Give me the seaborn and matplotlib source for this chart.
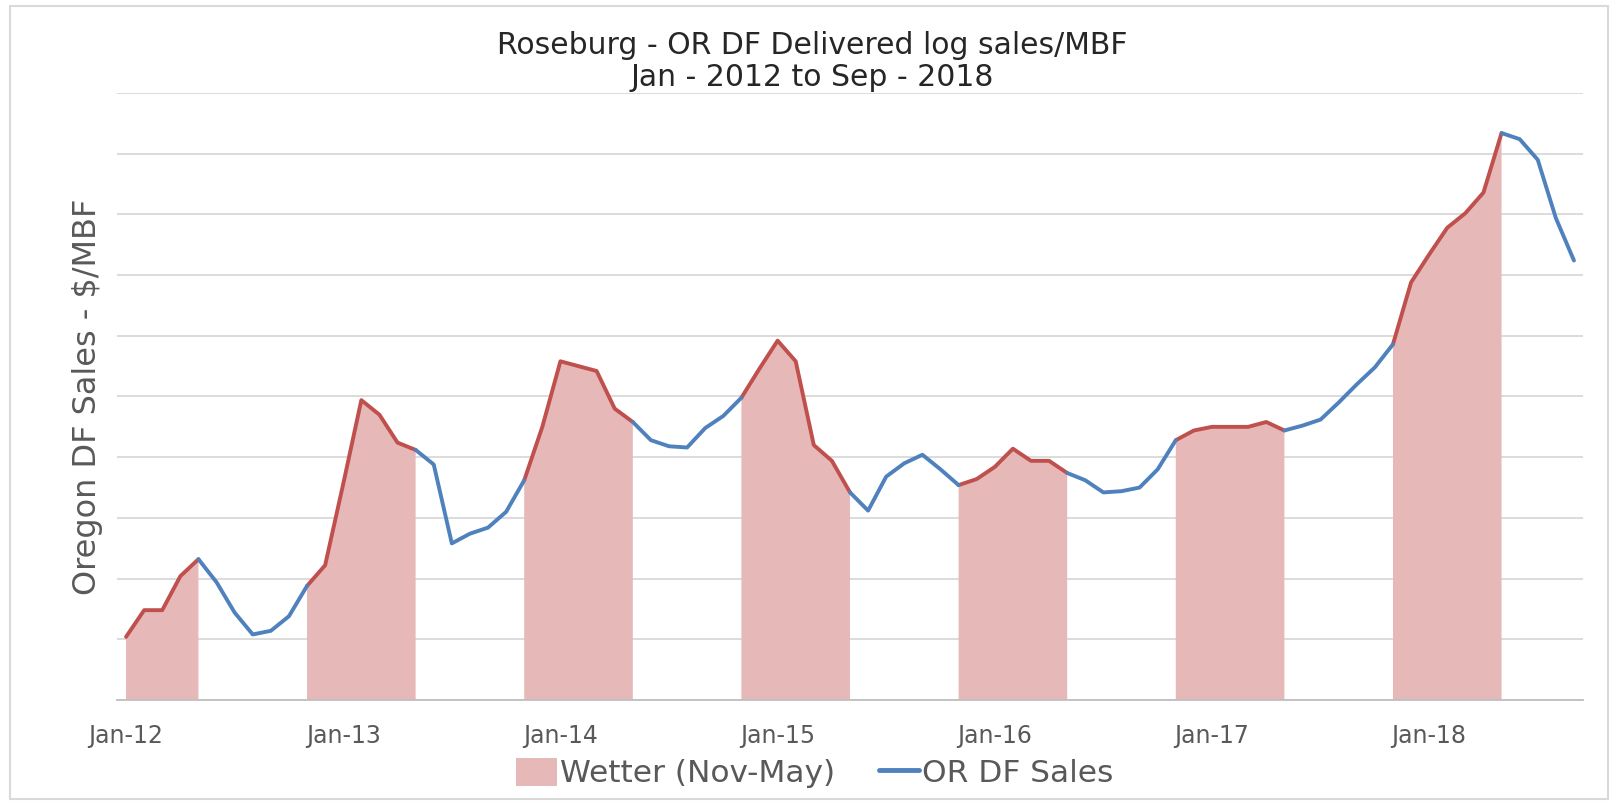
import numpy as np
import pandas as pd
import matplotlib
matplotlib.use("Agg")
import matplotlib.pyplot as plt
import seaborn as sns
from matplotlib.patches import Patch, Rectangle
from matplotlib.lines import Line2D

# ---------------- data ----------------
months = pd.date_range("2012-01-01", "2018-09-01", freq="MS")
sales = [
    352, 374, 374, 402, 416, 397, 372, 354, 357, 369, 394, 411,   # 2012
    478, 547, 535, 512, 506, 494, 429, 437, 442, 455, 481, 525,   # 2013
    579, 575, 571, 540, 529, 514, 509, 508, 524, 534, 549, 573,   # 2014
    596, 579, 510, 497, 471, 456, 484, 495, 502, 490, 477, 482,   # 2015
    492, 507, 497, 497, 487, 481, 471, 472, 475, 490, 514, 522,   # 2016
    525, 525, 525, 529, 522, 526, 531, 545, 560, 574, 593, 644,   # 2017
    667, 689, 701, 718, 767, 762, 745, 697, 662,                  # 2018
]
tick_labels = ["Jan-12", "Jan-13", "Jan-14", "Jan-15", "Jan-16", "Jan-17", "Jan-18"]
wet_months = [11, 12, 1, 2, 3, 4, 5]

title_lines = ["Roseburg - OR DF Delivered log sales/MBF", "Jan - 2012 to Sep - 2018"]
ylabel = "Oregon DF Sales - $/MBF"
legend_labels = ["Wetter (Nov-May)", "OR DF Sales"]

FILL = "#E6B8B7"
RED = "#C0504D"
BLUE = "#4F81BD"
GRID = "#D9D9D9"
TXT = "#595959"

# ---------------- style ----------------
sns.set_theme(style="white")
plt.rcParams['font.family'] = ['DejaVu Sans']

fig = plt.figure(figsize=(16.18, 8.05), dpi=100)
ax = fig.add_axes([117 / 1618, 1 - 700 / 805, (1583 - 117) / 1618, (700 - 93) / 805])

idx = np.arange(len(sales))
wet = np.isin(months.month, wet_months)
ymin, ymax = 300, 800

ax.fill_between(idx, ymin, sales, where=wet, color=FILL, lw=0, zorder=1)

# build runs of wet / dry segments for the two-coloured line
rows = []
run = 0
prev = None
for i in range(len(sales) - 1):
    cls = "wet" if (wet[i] and wet[i + 1]) else "dry"
    if cls != prev:
        run += 1
        rows.append(dict(x=idx[i], y=sales[i], season=cls, run=run))
        prev = cls
    rows.append(dict(x=idx[i + 1], y=sales[i + 1], season=cls, run=run))
df = pd.DataFrame(rows)

sns.lineplot(data=df, x="x", y="y", hue="season", units="run", estimator=None,
             sort=False, palette={"wet": RED, "dry": BLUE}, lw=2.8,
             legend=False, ax=ax, zorder=3)
for ln in ax.lines:
    ln.set_solid_capstyle("round")
    ln.set_solid_joinstyle("round")

ax.set_xlim(-0.5, len(sales) - 0.5)
ax.set_ylim(ymin, ymax)
ax.set_yticks(np.arange(ymin, ymax + 1, 50))
ax.set_yticklabels([])
ax.tick_params(axis="y", length=0)
ax.yaxis.grid(True, color=GRID, lw=1.3, zorder=0)
ax.xaxis.grid(False)
ax.set_axisbelow(True)

major = [i for i in idx if months[i].month == 1]
ax.set_xticks(major)
ax.set_xticklabels(tick_labels, fontsize=17, color=TXT)
ax.set_xticks([m - 0.5 for m in major], minor=True)
ax.tick_params(axis="x", which="major", length=0, pad=17)
ax.tick_params(axis="x", which="minor", length=6, color="#BFBFBF", width=1.2)
ax.set_xlabel("")
ax.set_ylabel("")

for s in ["top", "left", "right"]:
    ax.spines[s].set_visible(False)
ax.spines["bottom"].set_color("#BFBFBF")
ax.spines["bottom"].set_linewidth(1.3)

fig.text(812 / 1618, 1 - 45 / 805, title_lines[0], ha="center", va="center", fontsize=21.5, color="#262626")
fig.text(812 / 1618, 1 - 78 / 805, title_lines[1], ha="center", va="center", fontsize=21.5, color="#262626")
fig.text(88 / 1618, 1 - 397 / 805, ylabel, rotation=90, ha="center", va="center", fontsize=23, color=TXT)

handles = [Patch(facecolor=FILL, edgecolor="none"), Line2D([0], [0], color=BLUE, lw=3.5)]
fig.legend(handles, legend_labels, loc="center", bbox_to_anchor=(815 / 1618, 1 - 773 / 805),
           ncol=2, frameon=False, fontsize=22.5, labelcolor=TXT, handlelength=1.3,
           handleheight=1.0, handletextpad=0.1, columnspacing=1.4)

fig.add_artist(Rectangle((0.006, 0.008), 0.988, 0.984, transform=fig.transFigure,
                         fill=False, edgecolor=GRID, lw=1.5))

fig.savefig("out.png", dpi=100)
